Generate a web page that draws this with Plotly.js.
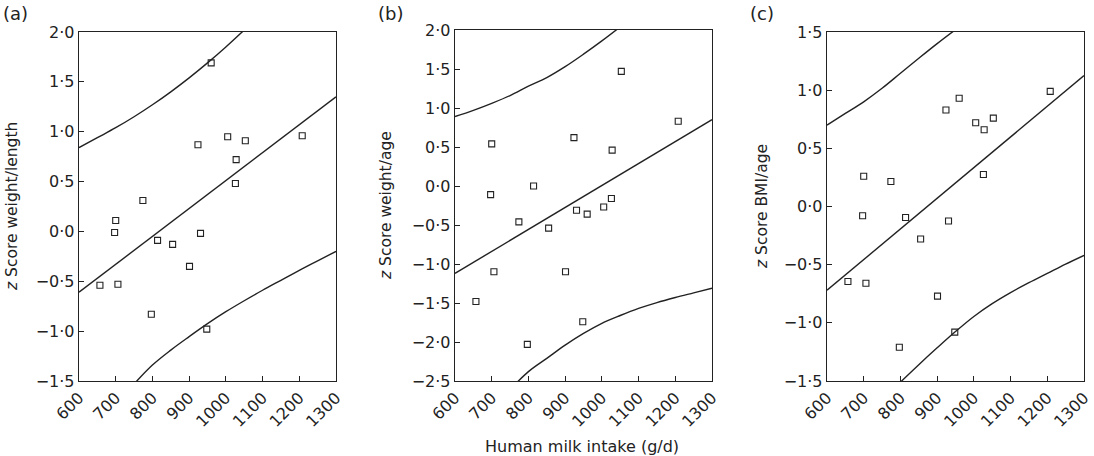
<!DOCTYPE html>
<html>
<head>
<meta charset="utf-8">
<script src="https://cdn.plot.ly/plotly-3.0.1.min.js"></script>
<style>
  html, body { margin: 0; padding: 0; background: #fff; }
  #graphDiv { width: 1094px; height: 456px; }
</style>
</head>
<body>
<div id="graphDiv"></div>
<script>
// human milk intake (g/d), same infants in every panel
const milkIntake = [657, 697, 700, 706, 774, 797, 814, 855, 901, 924, 931, 948, 960, 1005, 1026, 1028, 1053, 1208];

// z scores
const zWeightLength = [-0.54, -0.01, 0.11, -0.53, 0.31, -0.83, -0.09, -0.13, -0.35, 0.87, -0.02, -0.98, 1.69, 0.95, 0.48, 0.72, 0.91, 0.96];
const zWeightAge    = [-1.48, -0.11, 0.54, -1.10, -0.46, -2.03, 0.00, -0.54, -1.10, 0.62, -0.31, -1.74, -0.36, -0.27, -0.16, 0.46, 1.47, 0.83];
const zBmiAge       = [-0.645, -0.08, 0.26, -0.66, 0.215, -1.21, -0.095, -0.28, -0.77, 0.83, -0.125, -1.08, 0.93, 0.72, 0.275, 0.66, 0.76, 0.99];

// regression lines (ends at 600 and 1300)
const fitX = [600, 1300];
const fitA = [-0.61, 1.35];
const fitB = [-1.12, 0.85];
const fitC = [-0.72, 1.125];

// prediction bands
const upperX_A = [600, 650, 700, 750, 800, 850, 900, 950, 1000, 1050];
const upperA   = [0.84, 0.94, 1.04, 1.15, 1.27, 1.40, 1.54, 1.69, 1.85, 2.02];
const lowerX_A = [750, 800, 850, 900, 950, 1000, 1050, 1100, 1150, 1200, 1250, 1300];
const lowerA   = [-1.53, -1.34, -1.19, -1.055, -0.925, -0.805, -0.695, -0.59, -0.49, -0.39, -0.295, -0.20];

const upperX_B = [600, 650, 700, 750, 800, 850, 900, 950, 1000, 1050];
const upperB   = [0.89, 0.97, 1.06, 1.16, 1.28, 1.39, 1.53, 1.69, 1.86, 2.04];
const lowerX_B = [750, 800, 850, 900, 950, 1000, 1050, 1100, 1150, 1200, 1250, 1300];
const lowerB   = [-2.61, -2.38, -2.21, -2.04, -1.89, -1.76, -1.66, -1.57, -1.495, -1.43, -1.37, -1.31];

const upperX_C = [600, 650, 700, 750, 800, 850, 900, 950];
const upperC   = [0.70, 0.80, 0.90, 1.016, 1.145, 1.274, 1.40, 1.52];
const lowerX_C = [800, 850, 900, 950, 1000, 1050, 1100, 1150, 1200, 1250, 1300];
const lowerC   = [-1.51, -1.36, -1.215, -1.075, -0.945, -0.835, -0.74, -0.655, -0.575, -0.495, -0.42];

const xTicks = [600, 700, 800, 900, 1000, 1100, 1200, 1300];
const yTicksA = [-1.5, -1.0, -0.5, 0, 0.5, 1.0, 1.5, 2.0];
const yTicksB = [-2.5, -2.0, -1.5, -1.0, -0.5, 0, 0.5, 1.0, 1.5, 2.0];
const yTicksC = [-1.5, -1.0, -0.5, 0, 0.5, 1.0, 1.5];

drawGraph();

function tickText(vals){
  return vals.map(v => (v < 0 ? '\u2212' : '') + Math.abs(v).toFixed(1).replace('.', '\u00b7'));
}

function pts(x, y, n){
  return {
    x: x, y: y, xaxis: 'x' + n, yaxis: 'y' + n,
    mode: 'markers', type: 'scatter',
    marker: {symbol: 'square-open', size: 6, color: '#222', line: {width: 1.1}},
    showlegend: false
  };
}

function line(x, y, n, shape){
  return {
    x: x, y: y, xaxis: 'x' + n, yaxis: 'y' + n,
    mode: 'lines', type: 'scatter',
    line: {color: '#222', width: 1.4, shape: shape},
    showlegend: false
  };
}

function drawGraph(){
  const W = 1094, H = 456;
  const font = {family: 'DejaVu Sans, sans-serif', size: 16, color: '#222'};

  const xax = (l, r) => ({
    domain: [l / W, r / W], range: [600, 1300],
    tickvals: xTicks, ticktext: xTicks.map(String), tickangle: -45,
    ticks: 'inside', ticklen: 5, tickcolor: '#222',
    showline: true, mirror: true, linecolor: '#222', linewidth: 1.3,
    showgrid: false, zeroline: false, tickfont: font, fixedrange: true
  });
  const yax = (t, b, vals, anchor) => ({
    domain: [1 - b / H, 1 - t / H], range: [vals[0], vals[vals.length - 1]],
    tickvals: vals, ticktext: tickText(vals),
    ticks: 'inside', ticklen: 5, tickcolor: '#222',
    showline: true, mirror: true, linecolor: '#222', linewidth: 1.3,
    showgrid: false, zeroline: false, tickfont: font, anchor: anchor, fixedrange: true
  });

  const ann = (text, px, py, angle, size) => ({
    text: text, xref: 'paper', yref: 'paper',
    x: px / W, y: 1 - py / H, xanchor: 'center', yanchor: 'middle',
    textangle: angle || 0, showarrow: false,
    font: {family: font.family, size: size || 16, color: '#222'}
  });

  const layout = {
    width: W, height: H,
    margin: {l: 0, r: 0, t: 0, b: 0},
    paper_bgcolor: '#fff', plot_bgcolor: '#fff',
    xaxis: Object.assign(xax(79, 336), {anchor: 'y'}),
    yaxis: yax(32, 381, yTicksA, 'x'),
    xaxis2: Object.assign(xax(455, 712), {anchor: 'y2'}),
    yaxis2: yax(30, 381, yTicksB, 'x2'),
    xaxis3: Object.assign(xax(827, 1084), {anchor: 'y3'}),
    yaxis3: yax(32, 381, yTicksC, 'x3'),
    annotations: [
      ann('(a)', 15, 14, 0, 18),
      ann('(b)', 390, 14, 0, 18),
      ann('(c)', 762, 14, 0, 18),
      ann('<i>z</i> Score weight/length', 12, 207, -90, 15.5),
      ann('<i>z</i> Score weight/age', 386, 206, -90, 15.5),
      ann('<i>z</i> Score BMI/age', 762, 207, -90, 15.5),
      ann('Human milk intake (g/d)', 582, 446, 0, 16)
    ]
  };

  const data = [
    line(upperX_A, upperA, '', 'spline'), line(lowerX_A, lowerA, '', 'spline'), line(fitX, fitA, '', 'linear'),
    pts(milkIntake, zWeightLength, ''),
    line(upperX_B, upperB, '2', 'spline'), line(lowerX_B, lowerB, '2', 'spline'), line(fitX, fitB, '2', 'linear'),
    pts(milkIntake, zWeightAge, '2'),
    line(upperX_C, upperC, '3', 'spline'), line(lowerX_C, lowerC, '3', 'spline'), line(fitX, fitC, '3', 'linear'),
    pts(milkIntake, zBmiAge, '3')
  ];

  Plotly.newPlot('graphDiv', data, layout, {staticPlot: true});
}
</script>
</body>
</html>
